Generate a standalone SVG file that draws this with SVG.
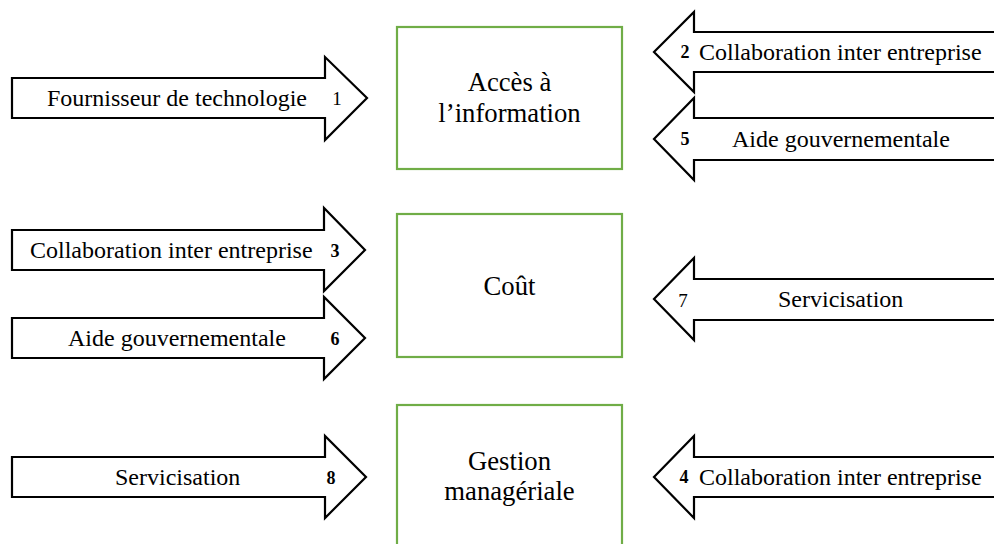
<svg xmlns="http://www.w3.org/2000/svg" width="994" height="544" viewBox="0 0 994 544">
<style>
.bg{fill:#ffffff}
.box{fill:#ffffff;stroke:#70AD47;stroke-width:2.2}
.arr{fill:#ffffff;stroke:#000000;stroke-width:2.2;stroke-linejoin:miter}
text{font-family:'Liberation Serif',Tinos,'Times New Roman',Times,'DejaVu Serif',serif;fill:#000000}
.t{font-size:24px}
.bt{font-size:26.7px;text-anchor:middle}
.n{font-size:18px;font-weight:bold;text-anchor:middle}
.nr{font-weight:normal;font-size:19px}
</style>
<rect class="bg" x="0" y="0" width="994" height="544"/>
<g id="node-acces">
<rect class="box" x="397" y="27" width="225" height="142"/>
<text class="bt" x="509.5" y="91">Accès à</text>
<text class="bt" x="509.5" y="122">l’information</text>
</g>
<g id="node-cout">
<rect class="box" x="397" y="214" width="225" height="143"/>
<text class="bt" x="509.5" y="295">Coût</text>
</g>
<g id="node-gestion">
<rect class="box" x="397" y="405" width="225" height="150"/>
<text class="bt" x="509.5" y="470">Gestion</text>
<text class="bt" x="509.5" y="500">managériale</text>
</g>
<g id="connectors">
<g id="arrow-1">
<polygon class="arr" points="12,78 325,78 325,57 367,98 325,140 325,118 12,118"/>
<text class="t" x="47" y="106">Fournisseur de technologie</text>
<text class="n nr" x="337" y="105">1</text>
</g>
<g id="arrow-3">
<polygon class="arr" points="12,230 324,230 324,208 365,250 324,291 324,270 12,270"/>
<text class="t" x="30" y="258">Collaboration inter entreprise</text>
<text class="n" x="335" y="257">3</text>
</g>
<g id="arrow-6">
<polygon class="arr" points="12,318 324,318 324,297 365,338 324,379 324,358 12,358"/>
<text class="t" x="68" y="346">Aide gouvernementale</text>
<text class="n" x="335" y="345">6</text>
</g>
<g id="arrow-8">
<polygon class="arr" points="12,457 325,457 325,436 366,477 325,518 325,497 12,497"/>
<text class="t" x="115" y="485">Servicisation</text>
<text class="n" x="331" y="484">8</text>
</g>
<g id="arrow-2">
<polygon class="arr" points="1000,32 694,32 694,12 654,52 694,92 694,72 1000,72"/>
<text class="n" x="685" y="58">2</text>
<text class="t" x="699" y="60">Collaboration inter entreprise</text>
</g>
<g id="arrow-5">
<polygon class="arr" points="1000,118 694,118 694,98 654,139 694,180 694,160 1000,160"/>
<text class="n" x="685" y="145">5</text>
<text class="t" x="732" y="147">Aide gouvernementale</text>
</g>
<g id="arrow-7">
<polygon class="arr" points="1000,279 694,279 694,258 654,299 694,340 694,320 1000,320"/>
<text class="n nr" x="683" y="307">7</text>
<text class="t" x="778" y="307">Servicisation</text>
</g>
<g id="arrow-4">
<polygon class="arr" points="1000,457 694,457 694,436 654,477 694,518 694,497 1000,497"/>
<text class="n" x="684" y="483">4</text>
<text class="t" x="699" y="485">Collaboration inter entreprise</text>
</g>
</g>
</svg>
